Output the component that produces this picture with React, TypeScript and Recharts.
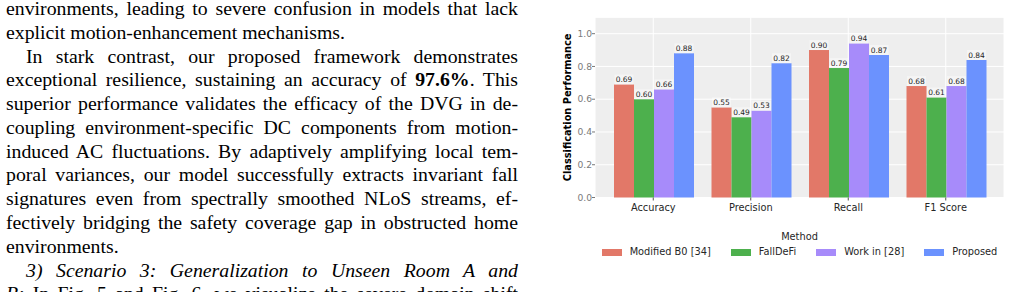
import { BarChart, Bar, XAxis, YAxis, CartesianGrid, Legend, LabelList } from "recharts";

const categories = ["Accuracy", "Precision", "Recall", "F1 Score"];
const modifiedB0 = [0.69, 0.55, 0.90, 0.68];
const fallDeFi = [0.60, 0.49, 0.79, 0.61];
const workIn28 = [0.66, 0.53, 0.94, 0.68];
const proposed = [0.88, 0.82, 0.87, 0.84];
const yTicks = [0, 0.2, 0.4, 0.6, 0.8, 1.0];

const SERIES = [
  { key: "b0", name: "Modified B0 [34]", color: "#E27868", values: modifiedB0 },
  { key: "fd", name: "FallDeFi", color: "#4DB04D", values: fallDeFi },
  { key: "w28", name: "Work in [28]", color: "#A78BFA", values: workIn28 },
  { key: "prop", name: "Proposed", color: "#6B92FE", values: proposed },
];

const data = categories.map((c, i) => {
  const row: Record<string, any> = { category: c };
  SERIES.forEach((s) => { row[s.key] = s.values[i]; });
  return row;
});

const FONT = "'DejaVu Sans', sans-serif";

// paragraph lines as laid out in the page (j = justified line)
const LINES: { text: any; j?: boolean; indent?: boolean }[] = [
  { text: "environments, leading to severe confusion in models that lack", j: true },
  { text: "explicit motion-enhancement mechanisms." },
  { text: "In stark contrast, our proposed framework demonstrates", j: true, indent: true },
  { text: <>exceptional resilience, sustaining an accuracy of <b>97.6%</b>. This</>, j: true },
  { text: "superior performance validates the efficacy of the DVG in de-", j: true },
  { text: "coupling environment-specific DC components from motion-", j: true },
  { text: "induced AC fluctuations. By adaptively amplifying local tem-", j: true },
  { text: "poral variances, our model successfully extracts invariant fall", j: true },
  { text: "signatures even from spectrally smoothed NLoS streams, ef-", j: true },
  { text: "fectively bridging the safety coverage gap in obstructed home", j: true },
  { text: "environments." },
  { text: <i>3) Scenario 3: Generalization to Unseen Room A and</i>, j: true, indent: true },
  { text: <><i>B:</i> In Fig. 5 and Fig. 6, we visualize the severe domain shift</>, j: true },
];

function ValueLabel(props: any) {
  const { x, y, width, value } = props;
  const cx = x + width / 2;
  return (
    <g>
      <rect x={cx - 9.5} y={y - 10} width={19} height={10} fill="#ffffff" fillOpacity={0.4} />
      <text x={cx} y={y - 2.2} textAnchor="middle" fontSize={7.5} fill="#262626" fontFamily={FONT}>
        {Number(value).toFixed(2)}
      </text>
    </g>
  );
}

// legend centred under the plot area (y axis is 40px wide)
function MethodLegend() {
  return (
    <div style={{ height: 60, paddingLeft: 40, fontFamily: FONT, fontSize: 9.8, color: "#262626" }}>
      <div style={{ lineHeight: "10px", height: 10, textAlign: "center" }}>Method</div>
      <div style={{ display: "flex", justifyContent: "center", alignItems: "center", marginTop: 5, lineHeight: "10px" }}>
        {SERIES.map((s, i) => (
          <div key={s.key} style={{ display: "flex", alignItems: "center", marginRight: i < SERIES.length - 1 ? 20 : 0 }}>
            <span style={{ display: "inline-block", width: 20, height: 7, background: s.color, marginRight: 8 }} />
            <span>{s.name}</span>
          </div>
        ))}
      </div>
    </div>
  );
}

export default function App() {
  return (
    <div style={{ position: "absolute", left: 0, top: 0, width: 1009, height: 292, overflow: "hidden", background: "#fff" }}>
      <div
        style={{
          position: "absolute", left: 6, top: -3.1, width: 512,
          fontFamily: "'Liberation Serif', 'Times New Roman', serif",
          fontSize: 19.8, lineHeight: "23.8px", color: "#000",
        }}
      >
        {LINES.map((l, i) => (
          <div
            key={i}
            style={{
              textAlign: l.j ? "justify" : "left",
              textAlignLast: l.j ? "justify" : "left",
              textIndent: l.indent ? 20 : 0,
              whiteSpace: "nowrap",
            }}
          >
            {l.text}
          </div>
        ))}
      </div>

      <div style={{ position: "absolute", left: 555, top: 0 }}>
        <BarChart
          width={454}
          height={292}
          data={data}
          margin={{ top: 17.3, right: 5, left: 0, bottom: 0 }}
          barCategoryGap={9.5}
          barGap={0}
        >
          <CartesianGrid fill="#EEEEEE" stroke="#ffffff" strokeWidth={1} />
          <XAxis
            dataKey="category"
            height={34.5}
            padding={{ left: 9.5, right: 9.5 }}
            axisLine={false}
            tickLine={{ stroke: "#555" }}
            tickSize={3}
            tickMargin={4}
            tick={{ fontSize: 9.8, fill: "#262626", fontFamily: FONT }}
            interval={0}
          />
          <YAxis
            width={40}
            domain={[0, 1.1]}
            ticks={yTicks}
            axisLine={false}
            tickLine={{ stroke: "#777" }}
            tickSize={3}
            tickMargin={0}
            tickFormatter={(v: number) => v.toFixed(1)}
            tick={{ fontSize: 9.2, fill: "#7a7a7a", fontFamily: FONT }}
            label={(p: any) => {
              const vb = p.viewBox;
              const cx = vb.x + 13;
              const cy = vb.y + vb.height / 2;
              return (
                <text
                  x={cx} y={cy} transform={`rotate(-90 ${cx} ${cy})`}
                  textAnchor="middle" dominantBaseline="central"
                  fontSize={9.8} fontWeight="bold" fill="#000" fontFamily={FONT}
                >
                  Classification Performance
                </text>
              );
            }}
          />
          <Legend verticalAlign="bottom" content={() => <MethodLegend />} />
          {SERIES.map((s) => (
            <Bar key={s.key} dataKey={s.key} name={s.name} fill={s.color} isAnimationActive={false}>
              <LabelList dataKey={s.key} content={ValueLabel} />
            </Bar>
          ))}
        </BarChart>
      </div>
    </div>
  );
}
